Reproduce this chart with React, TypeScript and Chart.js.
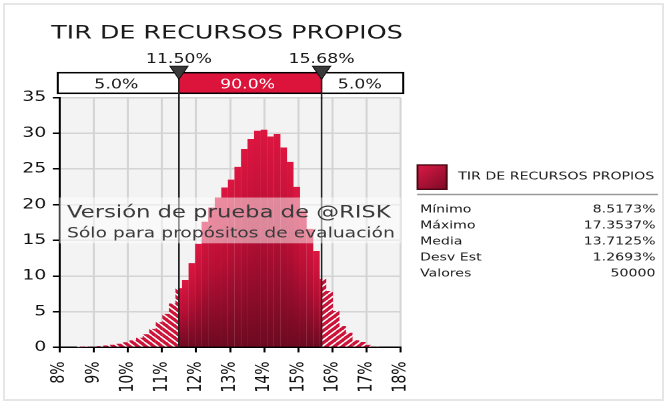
import { useEffect, useRef } from 'react';
import { Chart, registerables } from 'chart.js';

Chart.register(...registerables);

// ---------- data ----------
const chartTitle = 'TIR DE RECURSOS PROPIOS';
const binCenters = [
  8.613, 8.805, 8.998, 9.19, 9.382, 9.574, 9.766, 9.958, 10.15, 10.342,
  10.534, 10.726, 10.919, 11.111, 11.303, 11.495, 11.687, 11.879, 12.071, 12.263,
  12.455, 12.647, 12.839, 13.032, 13.224, 13.416, 13.608, 13.8, 13.992, 14.184,
  14.376, 14.568, 14.76, 14.953, 15.145, 15.337, 15.529, 15.721, 15.913, 16.105,
  16.297, 16.489, 16.681, 16.873, 17.066, 17.258,
];
const binDensity = [
  0.04, 0.08, 0.12, 0.18, 0.26, 0.38, 0.52, 0.72, 1.0, 1.35,
  1.85, 2.6, 3.55, 4.7, 6.15, 8.3, 9.45, 11.8, 14.5, 17.6,
  19.6, 21.0, 22.4, 23.5, 25.3, 27.8, 29.2, 30.35, 30.5, 29.55,
  29.9, 28.0, 26.0, 22.5, 19.2, 16.6, 13.5, 9.6, 7.9, 5.1,
  3.0, 2.05, 1.0, 0.75, 0.35, 0.12,
];
const xMinPct = 8;
const xMaxPct = 18;
const yMax = 35;
const yStep = 5;
const delimiters = [11.5, 15.68];
const delimiterLabels = ['11.50%', '15.68%'];
const bandPercents = ['5.0%', '90.0%', '5.0%'];
const statLabels = ['Mínimo', 'Máximo', 'Media', 'Desv Est', 'Valores'];
const statValues = ['8.5173%', '17.3537%', '13.7125%', '1.2693%', '50000'];
const watermarkLines = ['Versión de prueba de @RISK', 'Sólo para propósitos de evaluación'];

// ---------- layout helpers ----------
const BASE_W = 500;
const SX = 667 / BASE_W;
const ux = (x: number) => x / SX;
const FONT = '"DejaVu Sans", Verdana, sans-serif';

function makeHatch(ctx: CanvasRenderingContext2D, dir: 1 | -1) {
  const s = 6;
  const r = 4;
  const c = document.createElement('canvas');
  c.width = s * r;
  c.height = s * r;
  const g = c.getContext('2d')!;
  g.scale(r, r);
  g.fillStyle = '#cd1238';
  g.fillRect(0, 0, s, s);
  g.strokeStyle = '#ffffff';
  g.lineWidth = 1.4;
  g.beginPath();
  for (const o of [-s, 0, s]) {
    if (dir === 1) {
      g.moveTo(o, s);
      g.lineTo(o + s, 0);
    } else {
      g.moveTo(o, 0);
      g.lineTo(o + s, s);
    }
  }
  g.stroke();
  const p = ctx.createPattern(c, 'repeat')!;
  p.setTransform(new DOMMatrix().scale(1 / r));
  return p;
}

export default function App() {
  const ref = useRef<HTMLCanvasElement>(null);

  useEffect(() => {
    document.body.style.margin = '0';
    const canvas = ref.current!;
    const ctx0 = canvas.getContext('2d')!;
    const hatchLeft = makeHatch(ctx0, -1);
    const hatchRight = makeHatch(ctx0, 1);
    const points = binCenters.map((x, i) => ({ x, y: binDensity[i] }));

    const gradientFill = (c: any) => {
      const chart = c.chart;
      const ys = chart.scales && chart.scales.y;
      const v = c.raw && typeof c.raw.y === 'number' ? c.raw.y : null;
      if (!ys || v === null || !chart.chartArea) return '#c01034';
      const top = ys.getPixelForValue(v);
      const bot = ys.getPixelForValue(0);
      if (!isFinite(top) || !isFinite(bot) || bot - top < 0.5) return '#c01034';
      const g = chart.ctx.createLinearGradient(0, top, 0, bot);
      g.addColorStop(0, '#dc1640');
      g.addColorStop(0.45, '#b80f35');
      g.addColorStop(1, '#6c0a21');
      return g;
    };
    const hatchFill = (c: any) => {
      const x = c.raw && typeof c.raw.x === 'number' ? c.raw.x : 0;
      return x < 13.7 ? hatchLeft : hatchRight;
    };

    const clipPlugin = {
      id: 'clipSplit',
      beforeDatasetDraw(chart: any, args: any) {
        const ctx = chart.ctx;
        const a = chart.chartArea;
        const xs = chart.scales.x;
        const x1 = xs.getPixelForValue(delimiters[0]);
        const x2 = xs.getPixelForValue(delimiters[1]);
        ctx.save();
        ctx.beginPath();
        if (args.index === 0) {
          ctx.rect(x1, a.top - 5, x2 - x1, a.bottom - a.top + 10);
        } else {
          ctx.rect(a.left - 5, a.top - 5, x1 - a.left + 5, a.bottom - a.top + 10);
          ctx.rect(x2, a.top - 5, a.right - x2 + 5, a.bottom - a.top + 10);
        }
        ctx.clip();
      },
      afterDatasetDraw(chart: any) {
        chart.ctx.restore();
      },
    };

    const decorPlugin = {
      id: 'decor',
      beforeDraw(chart: any) {
        const ctx = chart.ctx;
        const a = chart.chartArea;
        ctx.save();
        ctx.fillStyle = '#ffffff';
        ctx.fillRect(0, 0, chart.width, chart.height);
        ctx.fillStyle = '#f3f3f3';
        ctx.fillRect(a.left, a.top, a.right - a.left, a.bottom - a.top);
        ctx.restore();
      },
      afterDatasetsDraw(chart: any) {
        const ctx = chart.ctx;
        const a = chart.chartArea;
        const xs = chart.scales.x;
        ctx.save();
        // delimiter lines
        ctx.strokeStyle = '#222222';
        ctx.lineWidth = 1.25;
        for (const d of delimiters) {
          const x = xs.getPixelForValue(d);
          ctx.beginPath();
          ctx.moveTo(x, a.top);
          ctx.lineTo(x, a.bottom);
          ctx.stroke();
        }
        // watermark band
        ctx.fillStyle = 'rgba(255,255,255,0.5)';
        ctx.fillRect(a.left, 197.5, a.right - a.left, 45.8);
        ctx.fillStyle = '#3a3a3a';
        ctx.textAlign = 'left';
        ctx.textBaseline = 'alphabetic';
        ctx.font = `17px ${FONT}`;
        ctx.fillText(watermarkLines[0], ux(67), 217.3);
        ctx.font = `14px ${FONT}`;
        ctx.fillText(watermarkLines[1], ux(67), 237.5);
        ctx.restore();
      },
      afterDraw(chart: any) {
        const ctx = chart.ctx;
        const a = chart.chartArea;
        const xs = chart.scales.x;
        const x1 = xs.getPixelForValue(delimiters[0]);
        const x2 = xs.getPixelForValue(delimiters[1]);
        ctx.save();
        ctx.textBaseline = 'alphabetic';
        // title
        ctx.fillStyle = '#1a1a1a';
        ctx.font = `19px ${FONT}`;
        ctx.textAlign = 'center';
        ctx.fillText(chartTitle, ux(227), 38.3);
        // delimiter labels
        ctx.font = `13px ${FONT}`;
        ctx.fillText(delimiterLabels[0], x1, 62.8);
        ctx.fillText(delimiterLabels[1], x2, 62.8);
        // percent band
        const bTop = 72.7;
        const bBot = 93.3;
        const bL = ux(57.7);
        const bR = ux(403.3);
        ctx.fillStyle = '#ffffff';
        ctx.fillRect(bL, bTop, bR - bL, bBot - bTop);
        ctx.fillStyle = '#dc143c';
        ctx.fillRect(x1, bTop, x2 - x1, bBot - bTop);
        ctx.strokeStyle = '#000000';
        ctx.lineWidth = 1.5;
        ctx.strokeRect(bL, bTop, bR - bL, bBot - bTop);
        // lines through band down to plot
        ctx.strokeStyle = '#222222';
        ctx.lineWidth = 1.25;
        for (const x of [x1, x2]) {
          ctx.beginPath();
          ctx.moveTo(x, bTop);
          ctx.lineTo(x, a.top + 1);
          ctx.stroke();
        }
        ctx.font = `13px ${FONT}`;
        ctx.fillStyle = '#1a1a1a';
        ctx.fillText(bandPercents[0], (bL + x1) / 2 - 1.5, 88.3);
        ctx.fillText(bandPercents[2], (x2 + bR) / 2 - 2, 88.3);
        ctx.fillStyle = '#ffffff';
        ctx.fillText(bandPercents[1], (x1 + x2) / 2 - 2, 88.3);
        // triangles
        for (const x of [x1, x2]) {
          ctx.beginPath();
          ctx.moveTo(x - 6.8, 66.2);
          ctx.lineTo(x + 6.8, 66.2);
          ctx.lineTo(x, 79.3);
          ctx.closePath();
          ctx.fillStyle = '#3a3a3a';
          ctx.fill();
          ctx.strokeStyle = '#111111';
          ctx.lineWidth = 0.8;
          ctx.stroke();
        }
        // legend swatch
        const sx = ux(417.5);
        const sw = ux(29.2);
        const sy = 165;
        const sh = 24.3;
        const sg = ctx.createLinearGradient(sx, sy, sx + sw, sy + sh);
        sg.addColorStop(0, '#dc1a46');
        sg.addColorStop(1, '#7c0a26');
        ctx.fillStyle = sg;
        ctx.fillRect(sx, sy, sw, sh);
        ctx.strokeStyle = '#4a0612';
        ctx.lineWidth = 1.4;
        ctx.strokeRect(sx, sy, sw, sh);
        ctx.fillStyle = '#1a1a1a';
        ctx.textAlign = 'left';
        ctx.font = `10.6px ${FONT}`;
        ctx.fillText(chartTitle, ux(458.3), 179.5);
        // separator
        ctx.strokeStyle = '#9a9a9a';
        ctx.lineWidth = 1.5;
        ctx.beginPath();
        ctx.moveTo(ux(417), 194.5);
        ctx.lineTo(ux(658), 194.5);
        ctx.stroke();
        // stats
        ctx.font = `10.6px ${FONT}`;
        const rows = [212.5, 228.5, 244.5, 260.5, 276.5];
        statLabels.forEach((lab, i) => {
          ctx.textAlign = 'left';
          ctx.fillText(lab, ux(420), rows[i]);
          ctx.textAlign = 'right';
          ctx.fillText(statValues[i], ux(655.5), rows[i]);
        });
        ctx.restore();
      },
    };

    const chart = new Chart(canvas, {
      type: 'bar',
      data: {
        datasets: [
          {
            label: 'central',
            data: points,
            backgroundColor: gradientFill,
            borderWidth: 0,
            barPercentage: 1.02,
            categoryPercentage: 1,
            grouped: false,
          } as any,
          {
            label: 'tails',
            data: points,
            backgroundColor: hatchFill,
            borderWidth: 0,
            barPercentage: 1.02,
            categoryPercentage: 1,
            grouped: false,
          } as any,
        ],
      },
      options: {
        animation: false,
        responsive: true,
        maintainAspectRatio: false,
        devicePixelRatio: 2,
        layout: { padding: { left: 0, top: 97.6, right: BASE_W - 300.4, bottom: 0 } },
        plugins: {
          legend: { display: false },
          tooltip: { enabled: false },
          title: { display: false },
        },
        scales: {
          x: {
            type: 'linear',
            min: xMinPct,
            max: xMaxPct,
            offset: false,
            afterFit: (s: any) => {
              s.height = 57.6;
            },
            grid: {
              offset: false,
              color: '#d4d4d4',
              lineWidth: 1.5,
              tickColor: '#000000',
              tickLength: 5,
            },
            border: { color: '#000000', width: 1.5 },
            ticks: {
              stepSize: 1,
              autoSkip: false,
              minRotation: 90,
              maxRotation: 90,
              padding: 9,
              color: '#111111',
              font: { family: FONT, size: 14 },
              callback: (v: any) => `${v}%`,
            },
          },
          y: {
            min: 0,
            max: yMax,
            afterFit: (s: any) => {
              s.width = 44.6;
            },
            grid: {
              color: '#d4d4d4',
              lineWidth: 1.5,
              tickColor: '#000000',
              tickLength: 5,
            },
            border: { color: '#000000', width: 1.5 },
            ticks: {
              stepSize: yStep,
              padding: 5,
              color: '#111111',
              font: { family: FONT, size: 14 },
            },
          },
        },
      } as any,
      plugins: [decorPlugin, clipPlugin],
    });
    return () => chart.destroy();
  }, []);

  return (
    <div
      style={{
        position: 'fixed',
        left: 0,
        top: 0,
        width: 667,
        height: 405,
        background: '#ffffff',
        overflow: 'hidden',
      }}
    >
      <div
        style={{
          position: 'absolute',
          left: 0,
          top: 0,
          width: BASE_W,
          height: 405,
          transform: `scaleX(${SX})`,
          transformOrigin: '0 0',
        }}
      >
        <canvas ref={ref} />
      </div>
      <div
        style={{
          position: 'absolute',
          left: 3,
          top: 3,
          width: 661,
          height: 398,
          border: '2px solid #e6e6e6',
          boxSizing: 'border-box',
          pointerEvents: 'none',
        }}
      />
    </div>
  );
}
